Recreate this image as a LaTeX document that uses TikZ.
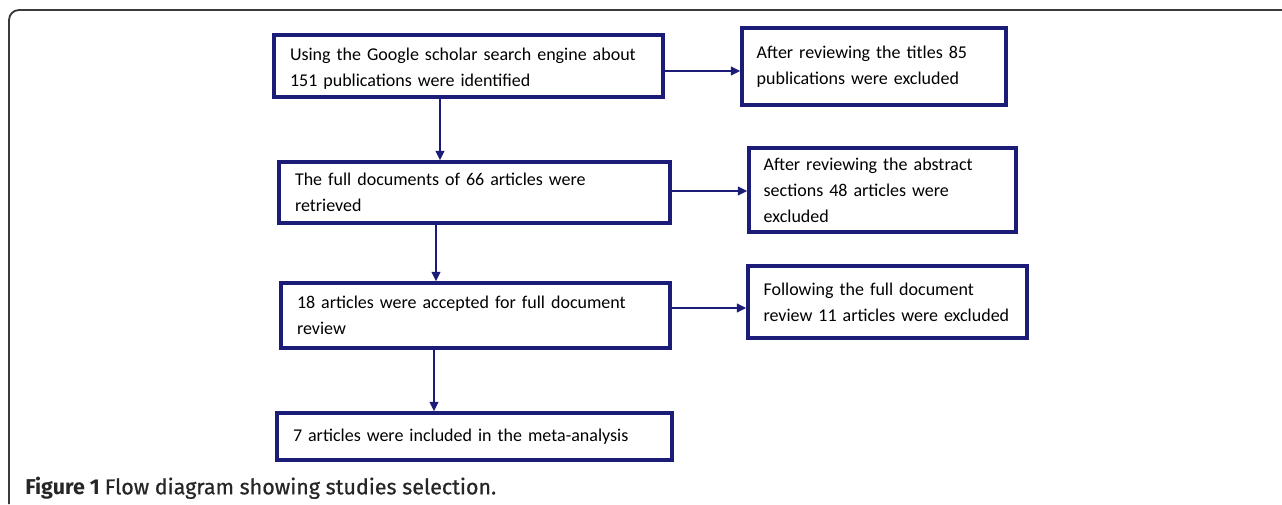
\documentclass[tikz,border=0pt]{standalone}
\usepackage{fontspec}
\setmainfont{Carlito}
\newfontfamily\capfont{Fira Sans}
\newfontfamily\capsemi[FakeBold=0.7]{Fira Sans}
\usetikzlibrary{arrows.meta}
\definecolor{navy}{HTML}{1B1B78}
\definecolor{framegray}{HTML}{3A3A3A}
\tikzset{
  box/.style={draw=navy, line width=2.6pt, rectangle, inner sep=0pt, align=left,
    font=\fontsize{13.5pt}{19.5pt}\selectfont, text=black},
  arr/.style={draw=navy, line width=1.3pt, -{Triangle[length=7pt,width=6.5pt]}},
}
\begin{document}
\begin{tikzpicture}[x=0.75pt,y=-0.75pt]
\useasboundingbox (0,0) rectangle (1282,504);
\draw[framegray, line width=1.4pt, rounded corners=7.5pt] (9,504) -- (9,10) -- (1283,10);

\node[box, minimum width=291.75pt, minimum height=46.5pt, text width=267.75pt, text depth=17pt] (b1) at (468.5,66)
  {Using the Google scholar search engine about\\151 publications were identified};
\node[box, minimum width=198pt, minimum height=57.75pt, text width=176pt] (b2) at (874,66.5)
  {After reviewing the titles 85\\publications were excluded};
\node[box, minimum width=293.25pt, minimum height=45.75pt, text width=269.25pt] (b3) at (474.5,192.5)
  {The full documents of 66 articles were\\retrieved};
\node[box, minimum width=200.25pt, minimum height=63pt, text width=178.25pt] (b4) at (882.5,190)
  {After reviewing the abstract\\sections 48 articles were\\excluded};
\node[box, minimum width=291.75pt, minimum height=48.75pt, text width=267.75pt] (b5) at (475.5,315.5)
  {18 articles were accepted for full document\\review};
\node[box, minimum width=209.25pt, minimum height=54pt, text width=186pt] (b6) at (887.5,302)
  {Following the full document\\review 11 articles were excluded};
\node[box, minimum width=296.25pt, minimum height=35.25pt, text width=272.25pt] (b7) at (474.5,436.5)
  {7 articles were included in the meta-analysis};

\coordinate (v1) at (440,0);
\coordinate (v2) at (436,0);
\coordinate (v3) at (434,0);
\coordinate (h1) at (0,71);
\coordinate (h2) at (0,191);
\coordinate (h3) at (0,308);

\draw[arr] (b1.east |- h1) -- (b2.west |- h1);
\draw[arr] (b3.east |- h2) -- (b4.west |- h2);
\draw[arr] (b5.east |- h3) -- (b6.west |- h3);
\draw[arr] (b1.south -| v1) -- (b3.north -| v1);
\draw[arr] (b3.south -| v2) -- (b5.north -| v2);
\draw[arr] (b5.south -| v3) -- (b7.north -| v3);

\node[anchor=west, inner sep=0pt, font=\fontsize{16.1pt}{17pt}\selectfont, text=black!85] (cap) at (25,488)
  {{\capfont\bfseries Figure 1} {\capsemi Flow diagram showing studies selection.}};
\end{tikzpicture}
\end{document}
